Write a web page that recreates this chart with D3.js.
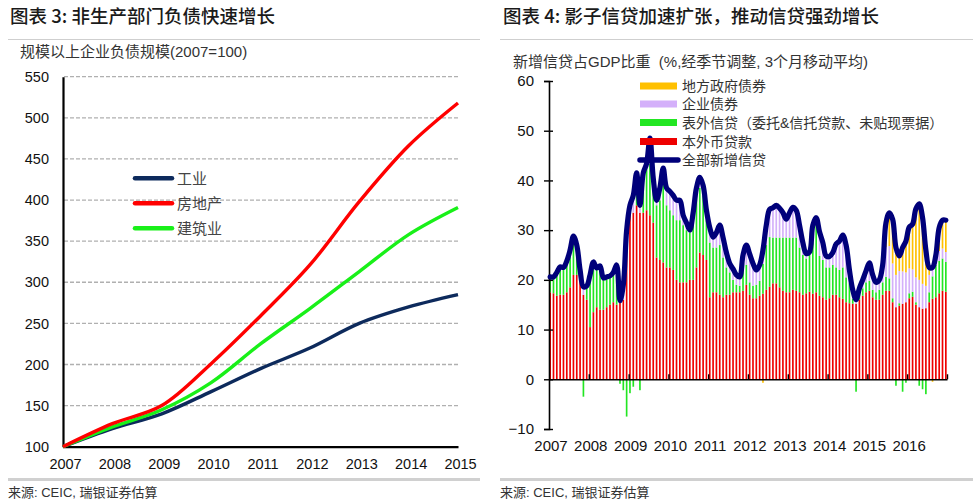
<!DOCTYPE html>
<html><head><meta charset="utf-8">
<script src="https://cdn.jsdelivr.net/npm/d3@7/dist/d3.min.js"></script>
<style>
body{margin:0;background:#fff;}
svg{display:block;font-family:"Liberation Sans","Noto Sans CJK SC",sans-serif;}
</style></head>
<body>
<svg id="c" width="979" height="503"></svg>
<script>
// ---------- Left chart data ----------
const leftYears = [2007,2008,2009,2010,2011,2012,2013,2014,2015];
const industry     = [100,122,140,167,195,220,250,270,285];
const realEstate   = [100,128,150,201,259,321,398,466,518];
const construction = [100,124,145,178,225,268,313,358,391];
const leftSeriesNames = ["工业","房地产","建筑业"];
const leftColors = ["#0d2a5c","#ff0000","#19f019"];
const leftYTicks = [100,150,200,250,300,350,400,450,500,550];

// ---------- Right chart data (monthly, Jan 2007 - Dec 2016) ----------
const years = ["2007","2008","2009","2010","2011","2012","2013","2014","2015","2016"];
const loans = [
17.5,17.3,16.8,17.0,17.0,17.5,18.5,21.0,21.0,20.5,17.0,16.0,
10.5,13.5,14.5,14.0,14.0,14.5,15.0,15.5,15.0,15.5,16.0,28.0,
33.5,33.5,35.0,33.5,33.5,34.0,33.0,31.5,24.5,24.0,23.5,22.5,
22.5,22.0,20.0,19.5,19.5,19.5,20.0,20.0,22.5,25.5,25.0,24.0,
16.5,17.5,17.5,17.0,16.5,17.0,17.0,17.5,17.5,17.5,17.8,19.0,
17.0,16.3,16.3,16.8,17.2,18.0,18.6,19.3,19.3,18.5,17.8,17.5,
17.5,18.0,17.8,17.5,17.0,17.3,17.6,17.2,17.5,16.8,16.5,16.0,
16.3,17.0,17.0,16.5,16.2,15.5,15.3,15.2,15.2,16.0,16.8,17.5,
17.8,16.5,16.0,16.0,17.0,17.8,17.8,15.5,14.5,14.8,15.2,15.5,
16.3,16.6,15.0,14.5,14.2,14.3,15.5,16.2,16.5,17.3,17.8,17.6];
const offBalance = [
2.8,3.0,4.4,5.3,5.2,6.0,7.2,7.5,5.7,1.2,-3.5,2.5,
10.0,9.5,7.5,8.3,6.0,5.7,5.4,5.6,7.6,-0.9,-2.2,-7.5,
-2.8,-1.5,5.5,-2.2,7.5,8.5,10.3,7.5,10.5,12.0,16.0,12.5,
11.5,11.0,12.0,12.5,11.5,10.5,9.5,11.5,14.5,13.0,12.0,8.0,
11.0,9.0,9.0,10.0,8.0,5.5,4.5,2.5,1.5,1.3,4.0,4.0,
2.5,2.5,2.7,3.0,6.0,9.0,10.0,9.2,9.2,10.0,10.7,11.0,
11.0,10.5,10.7,9.0,8.0,7.0,7.5,12.5,13.5,8.0,7.5,6.5,
6.2,6.0,5.5,5.5,6.3,5.0,4.0,1.0,-2.5,1.5,1.5,2.0,
2.0,1.5,1.5,2.0,2.5,2.8,2.5,0.8,-1.3,0.5,-2.5,-0.7,
1.0,1.0,0.5,-1.3,-2.0,-3.0,2.0,4.5,6.5,6.5,6.5,6.0];
const corpBonds = [
0.3,0.3,0.3,0.3,0.3,0.3,0.3,0.3,0.3,0.3,1.5,0.3,
0.3,0.4,0.4,0.4,0.4,0.4,0.4,0.4,0.4,0.3,3.0,2.0,
1.5,3.5,1.0,1.5,0.5,0.9,4.5,1.0,1.0,2.0,2.5,3.0,
3.5,3.5,3.5,3.5,2.0,1.5,0.5,2.0,1.5,2.0,2.0,2.0,
3.0,2.0,3.0,4.0,4.0,3.0,1.8,2.2,2.0,1.8,3.2,4.0,
5.7,4.5,3.0,3.2,3.0,4.0,5.6,6.0,6.5,6.0,5.0,3.7,
5.0,6.1,5.5,4.5,2.5,1.0,0.5,1.3,1.5,4.9,3.5,2.3,
2.2,2.5,4.7,5.8,6.5,6.5,2.7,1.8,0.8,0.8,1.7,2.3,
3.6,3.0,2.0,2.0,3.0,6.0,6.5,7.0,6.5,6.5,6.5,6.0,
5.0,4.5,5.0,5.5,5.0,4.5,3.5,1.8,1.5,2.0,2.0,2.0];
const localGov = [
0,0,0,0,0,0,0,0,0,0,0,0,
0,0,0,0,0,0,0,0,0,0,0,0,
0,0,0,0,0,0,0,0,0,0,0,0,
0,0,0,0,0,0,0,0,0,0,0,0,
0,0,0,0,0,0,0,0,0,0,0,0,
0,0,0,0,-0.7,0,0,0,0,0,0,0,
0,0,0,0,0,0,0,0,0,0,0,0,
0,0,0,0,0,0,0,0,0,0,0,0,
0,0,0,0,0.5,4.9,6.7,8.9,5.5,3.0,4.8,6.3,
8.3,9.1,13.8,15.3,13.3,7.2,1.5,-0.5,0.5,4.7,5.7,6.4];
const totalCredit = [
20.6,20.6,21.5,22.6,22.5,23.8,26.0,28.8,27.0,22.0,18.6,18.8,
21.0,23.6,22.4,22.8,20.4,20.6,20.8,21.5,23.0,15.8,19.0,30.0,
35.0,37.0,41.5,35.0,41.5,43.4,48.5,40.5,36.0,38.5,42.5,38.5,
37.8,37.0,36.0,36.0,33.0,31.5,30.0,33.5,38.5,40.6,39.0,34.0,
30.5,28.6,29.5,31.0,28.5,25.5,23.3,22.2,21.0,20.6,25.0,27.0,
25.2,23.3,22.0,23.0,26.0,31.0,34.2,34.5,35.0,34.4,33.5,32.2,
33.5,34.6,34.0,31.0,27.5,25.3,25.6,31.0,32.5,29.7,27.5,24.8,
24.7,25.5,27.2,27.8,29.0,27.0,22.0,18.0,16.0,18.3,20.0,21.8,
23.4,21.0,19.5,20.0,23.0,31.5,33.5,32.2,26.5,24.8,26.5,27.8,
30.6,31.2,34.3,35.3,32.5,26.0,22.5,22.5,25.0,30.5,32.0,32.0];
const rightSeriesNames = ["地方政府债券","企业债券","表外信贷（委托&信托贷款、未贴现票据）","本外币贷款","全部新增信贷"];
const rightColors = {localGov:"#ffc000", corpBonds:"#d4b0fa", offBalance:"#22e622", loans:"#ee0000", total:"#00007a"};
const rightYTicks = [-10,0,10,20,30,40,50,60];

const svg = d3.select("#c");

// ---------- Headers / footers ----------
function panelFrame(x0, x1, title, sub, subX, subY, titleX){
  svg.append("text").attr("x",titleX).attr("y",23).attr("font-size",18.5).attr("font-weight",500)
     .attr("fill","#1a1a1a").attr("style","white-space:pre")
     .attr("font-family","'Noto Sans CJK SC','Liberation Sans',sans-serif").text(title);
  svg.append("line").attr("x1",x0).attr("x2",x1).attr("y1",39.5).attr("y2",39.5).attr("stroke","#cfcfcf").attr("stroke-width",1.2);
  svg.append("text").attr("x",subX).attr("y",subY).attr("font-size",15).attr("fill","#333")
     .attr("style","white-space:pre").text(sub);
  svg.append("line").attr("x1",x0).attr("x2",x1).attr("y1",479.5).attr("y2",479.5).attr("stroke","#d0d0d0").attr("stroke-width",3);
  svg.append("text").attr("x",x0).attr("y",497).attr("font-size",13).attr("fill","#333").text("来源: CEIC, 瑞银证券估算");
}
panelFrame(8,480,"图表 3: 非生产部门负债快速增长","规模以上企业负债规模(2007=100)",20,57,10);
panelFrame(500,973,"图表 4: 影子信贷加速扩张，推动信贷强劲增长","新增信贷占GDP比重  (%,经季节调整, 3个月移动平均)",513,67,503);

// ---------- Left chart ----------
{
  const x = d3.scaleLinear().domain([2007,2015]).range([63,458]);
  const y = d3.scaleLinear().domain([100,550]).range([446.7,76.7]);
  const g = svg.append("g");
  g.append("g").selectAll("line").data(leftYTicks.filter(d=>d>100)).join("line")
    .attr("x1",64).attr("x2",458).attr("y1",d=>y(d)).attr("y2",d=>y(d))
    .attr("stroke","#b0b0b0").attr("stroke-width",1.3).attr("stroke-dasharray","4,2");
  const ya = g.append("g").attr("transform","translate(63,0)")
    .call(d3.axisLeft(y).tickValues(leftYTicks).tickSize(0).tickPadding(14));
  ya.select(".domain").attr("stroke","#000").attr("stroke-width",2.2);
  ya.selectAll("text").attr("font-size",14.5).attr("fill","#111").attr("font-family","Liberation Sans");
  const xa = g.append("g").attr("transform","translate(0,446.7)")
    .call(d3.axisBottom(x).tickValues(leftYears).tickFormat(d3.format("d")).tickSize(0).tickPadding(12));
  xa.select(".domain").attr("stroke","#000").attr("stroke-width",2.2);
  xa.selectAll("text").attr("font-size",14.5).attr("fill","#111").attr("font-family","Liberation Sans").attr("dx",2);
  const series = [industry, realEstate, construction];
  const line = d3.line().x((d,i)=>x(leftYears[i])).y(d=>y(d)).curve(d3.curveCatmullRom.alpha(0.5));
  [0,2,1].forEach(k=>{
    g.append("path").attr("d",line(series[k])).attr("fill","none")
      .attr("stroke",leftColors[k]).attr("stroke-width",3.4).attr("stroke-linejoin","round");
  });
  const ly = [178.3,203.3,228.3];
  leftSeriesNames.forEach((n,k)=>{
    g.append("line").attr("x1",135).attr("x2",172).attr("y1",ly[k]).attr("y2",ly[k])
      .attr("stroke",leftColors[k]).attr("stroke-width",4.5).attr("stroke-linecap","round");
    g.append("text").attr("x",177).attr("y",ly[k]+5.5).attr("font-size",15).attr("fill","#444").text(n);
  });
}

// ---------- Right chart ----------
{
  const months = [];
  years.forEach(yr=>{ for(let m=1;m<=12;m++) months.push(yr+"-"+String(m).padStart(2,"0")); });
  const x0 = 549, x1 = 947;
  const xb = d3.scaleBand().domain(months).range([x0,x1]).paddingInner(0.5).paddingOuter(0.1);
  const xt = d3.scaleTime().domain([new Date(2007,0,1), new Date(2017,0,1)]).range([x0,x1]);
  const y = d3.scaleLinear().domain([-10,60]).range([429,81]);
  const g = svg.append("g");

  const rows = months.map((m,i)=>({m, loans:loans[i], offBalance:offBalance[i], corpBonds:corpBonds[i], localGov:localGov[i]}));
  const stack = d3.stack().keys(["loans","offBalance","corpBonds","localGov"]).offset(d3.stackOffsetDiverging);
  const layers = stack(rows);
  layers.forEach(layer=>{
    g.append("g").selectAll("rect").data(layer).join("rect")
      .attr("x",d=>xb(d.data.m)).attr("width",xb.bandwidth())
      .attr("y",d=>y(Math.max(d[0],d[1]))).attr("height",d=>Math.abs(y(d[0])-y(d[1])))
      .attr("fill",rightColors[layer.key]);
  });

  const ya = g.append("g").attr("transform",`translate(${x0},0)`)
    .call(d3.axisLeft(y).tickValues(rightYTicks).tickSize(5).tickPadding(10));
  ya.select(".domain").attr("stroke","#000").attr("stroke-width",1.6);
  ya.selectAll(".tick line").attr("x1",4).attr("x2",-5).attr("stroke","#000").attr("stroke-width",1.4);
  ya.selectAll("text").attr("font-size",15).attr("fill","#111").attr("font-family","Liberation Sans");

  const za = g.append("g").attr("transform",`translate(0,${y(0)})`)
    .call(d3.axisBottom(xt).tickValues(d3.timeYear.range(new Date(2008,0,1), new Date(2017,1,1))).tickFormat("").tickSizeInner(-5).tickSizeOuter(0));
  za.select(".domain").attr("stroke","#000").attr("stroke-width",1.6);
  za.selectAll(".tick line").attr("stroke","#000").attr("stroke-width",1.4);

  const xa = g.append("g").attr("transform",`translate(0,${y(-10)})`)
    .call(d3.axisBottom(xt).tickValues(d3.timeYear.range(new Date(2007,0,1), new Date(2016,1,1))).tickFormat(d3.timeFormat("%Y")).tickSize(0).tickPadding(11));
  xa.select(".domain").remove();
  xa.selectAll("text").attr("font-size",15).attr("fill","#111").attr("font-family","Liberation Sans").attr("dx",1.5);

  const line = d3.line().x((d,i)=>xb(months[i])+xb.bandwidth()/2).y(d=>y(d)).curve(d3.curveCatmullRom.alpha(0.5));
  g.append("path").attr("d",line(totalCredit)).attr("fill","none").attr("stroke",rightColors.total)
    .attr("stroke-width",5.2).attr("stroke-linejoin","round").attr("stroke-linecap","round");

  const keys = ["localGov","corpBonds","offBalance","loans"];
  const rowY = [86,104,122.5,141.5,160];
  keys.forEach((k,i)=>{
    g.append("rect").attr("x",640).attr("y",rowY[i]-3.5).attr("width",37).attr("height",7).attr("fill",rightColors[k]);
  });
  g.append("line").attr("x1",640).attr("x2",678).attr("y1",rowY[4]).attr("y2",rowY[4])
    .attr("stroke",rightColors.total).attr("stroke-width",5.5).attr("stroke-linecap","round");
  rightSeriesNames.forEach((n,i)=>{
    g.append("text").attr("x",682).attr("y",rowY[i]+5).attr("font-size",14).attr("fill","#333").text(n);
  });
}
</script>
</body></html>
